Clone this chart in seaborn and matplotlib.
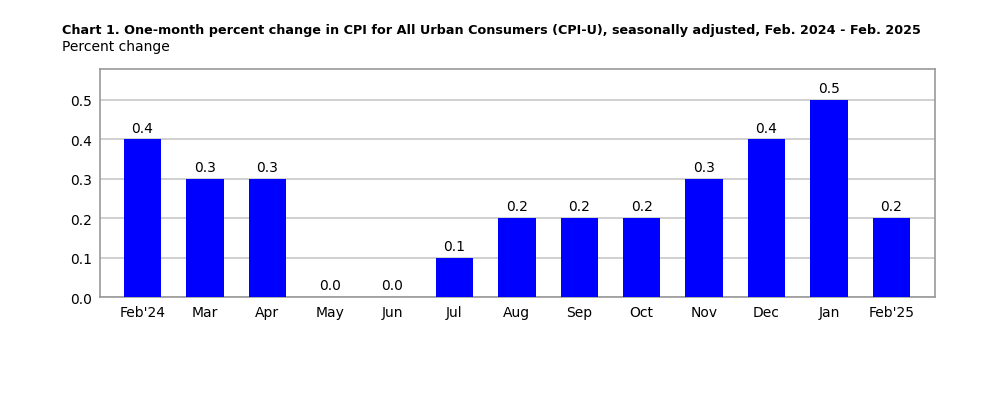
import pandas as pd
import seaborn as sns
import matplotlib.pyplot as plt

sns.set_style("white")
plt.rcParams['font.family'] = ['DejaVu Sans']
plt.rcParams['text.color'] = 'black'

months = ["Feb'24", "Mar", "Apr", "May", "Jun", "Jul", "Aug", "Sep", "Oct",
          "Nov", "Dec", "Jan", "Feb'25"]
pct_change = [0.4, 0.3, 0.3, 0.0, 0.0, 0.1, 0.2, 0.2, 0.2, 0.3, 0.4, 0.5, 0.2]
y_ticks = [0.0, 0.1, 0.2, 0.3, 0.4, 0.5]

df = pd.DataFrame({"month": months, "value": pct_change})

fig = plt.figure(figsize=(10, 4.06), dpi=100)
ax = fig.add_axes([0.1, 0.266, 0.835, 0.562])

sns.barplot(data=df, x="month", y="value", color="#0000ff", saturation=1,
            width=0.6, linewidth=0, ax=ax, zorder=3)

for i, v in enumerate(pct_change):
    ax.text(i, v + 0.012, f"{v:.1f}", ha="center", va="bottom", fontsize=10,
            color="black")

ax.set_ylim(0, 0.579)
ax.set_xlim(-0.68, 12.7)
ax.set_yticks(y_ticks)
ax.set_yticklabels([f"{t:.1f}" for t in y_ticks])
ax.yaxis.grid(True, color="#c8c8c8", linewidth=1.2, zorder=0)
ax.set_axisbelow(True)
ax.set_xlabel("")
ax.set_ylabel("")
ax.tick_params(axis="both", labelsize=10, labelcolor="black")
ax.tick_params(axis="x", length=4, width=0.8, color="#999999", pad=2)
ax.tick_params(axis="y", length=0, pad=6)
for s in ax.spines.values():
    s.set_color("#999999")
    s.set_linewidth(1.2)

fig.text(0.062, 0.925, "Chart 1. One-month percent change in CPI for All Urban Consumers (CPI-U), "
         "seasonally adjusted, Feb. 2024 - Feb. 2025",
         fontsize=9.2, fontweight="bold", va="center", color="black")
fig.text(0.062, 0.885, "Percent change", fontsize=10, va="center", color="black")

fig.savefig("out.png", dpi=100)
